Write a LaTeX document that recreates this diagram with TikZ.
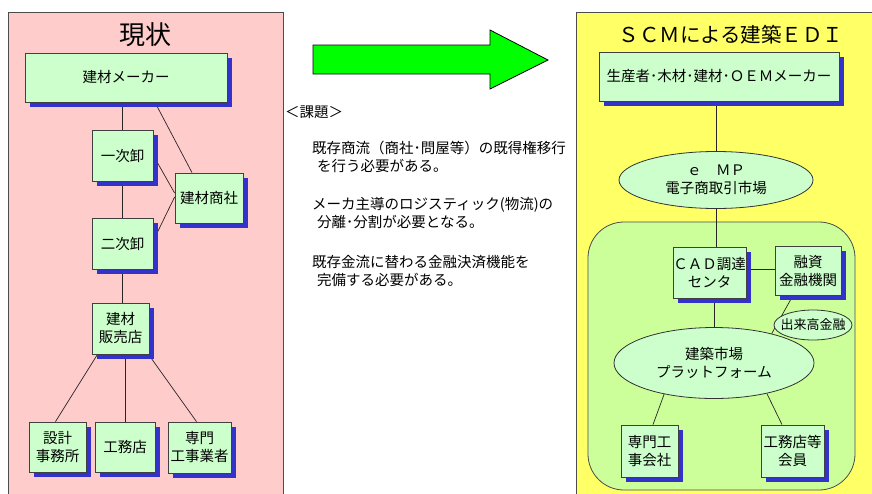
\documentclass[tikz,border=0pt]{standalone}
\usepackage{fontspec}
\setmainfont{Noto Sans CJK JP}
\usetikzlibrary{shapes.geometric,shadows}
\definecolor{shadowblue}{RGB}{51,51,204}
\definecolor{boxgreen}{RGB}{204,255,204}
\definecolor{panelpink}{RGB}{255,204,204}
\definecolor{panelyellow}{RGB}{255,255,102}
\definecolor{platgreen}{RGB}{204,255,153}
\definecolor{arrowgreen}{RGB}{0,255,0}
\pgfdeclarelayer{back}
\pgfdeclarelayer{bg}
\pgfsetlayers{back,bg,main}
\begin{document}
\begin{tikzpicture}[x=1pt,y=-1pt,
  box/.style={draw=black!75,fill=boxgreen,line width=0.8pt,inner sep=0pt,align=center,
    font=\fontsize{14.5}{18}\selectfont,
    drop shadow={shadow xshift=5pt,shadow yshift=-5pt,fill=shadowblue,opacity=1}},
  oval/.style={ellipse,draw=black!80,fill=boxgreen,line width=0.8pt,inner sep=0pt,align=center,
    font=\fontsize{14.5}{18}\selectfont},
  conn/.style={draw=black!85,line width=0.7pt},
  task/.style={anchor=west,inner sep=0pt,font=\fontsize{14.5}{17}\selectfont},
  panel/.style={draw=black!70,line width=0.8pt}
]
\useasboundingbox (0,0) rectangle (872,493);
% panels
\begin{pgfonlayer}{back}
  \fill[white] (0,0) rectangle (872,493);
  \path[panel,fill=panelpink] (8,12) rectangle (283,505);
  \path[panel,fill=panelyellow] (576,12) rectangle (885,505);
  \path[panel,fill=platgreen,rounded corners=36pt] (588,222) rectangle (855,490);
\end{pgfonlayer}
% titles
\node[font=\fontsize{26}{30}\selectfont] (t1) at (145,35) {現状};
\node[font=\fontsize{20.5}{24}\selectfont] (t2) at (731,35) {ＳＣＭによる建築ＥＤＩ};
% green arrow
\draw[black,line width=0.8pt,fill=arrowgreen] (313,45) -- (490,45) -- (490,30) -- (548,60) -- (490,89) -- (490,74) -- (313,74) -- cycle;
% task text
\node[task] (k0) at (285,112) {＜課題＞};
\node[task] (k1) at (312,148) {既存商流（商社･問屋等）の既得権移行};
\node[task] (k2) at (317,166) {を行う必要がある。};
\node[task] (k3) at (312,205) {メーカ主導のロジスティック(物流)の};
\node[task] (k4) at (317,222) {分離･分割が必要となる。};
\node[task] (k5) at (312,262) {既存金流に替わる金融決済機能を};
\node[task] (k6) at (317,280) {完備する必要がある。};
% left nodes
\node[box,minimum width=202,minimum height=49] (maker) at (126,77.5) {建材メーカー};
\node[box,minimum width=61,minimum height=51] (ichiji) at (122.5,155.5) {一次卸};
\node[box,minimum width=68,minimum height=50] (shosha) at (209,198) {建材商社};
\node[box,minimum width=61,minimum height=51] (niji) at (122.5,243.5) {二次卸};
\node[box,minimum width=57,minimum height=51] (hanbai) at (120.5,328.5) {建材\\販売店};
\node[box,minimum width=57,minimum height=50] (sekkei) at (57.5,447) {設計\\事務所};
\node[box,minimum width=60,minimum height=50] (koumu) at (125,447) {工務店};
\node[box,minimum width=63,minimum height=51] (senmon) at (199.5,447.5) {専門\\工事業者};
% right nodes
\node[box,minimum width=240,minimum height=49] (seisan) at (719,76.5) {生産者･木材･建材･ＯＥＭメーカー};
\node[oval,minimum width=194,minimum height=57] (emp) at (716,180) {ｅ　ＭＰ\\電子商取引市場};
\node[box,minimum width=73,minimum height=51] (cad) at (709.5,272.5) {ＣＡＤ調達\\センタ};
\node[box,minimum width=66,minimum height=49] (yushi) at (808,270.5) {融資\\金融機関};
\node[oval,minimum width=200,minimum height=71] (plat) at (714,363) {建築市場\\プラットフォーム};
\node[oval,minimum width=78,minimum height=30,font=\fontsize{13}{16}\selectfont] (deki) at (813,325) {\makebox[0pt]{出来高金融}};
\node[box,minimum width=57,minimum height=52] (senmon2) at (649.5,451) {専門工\\事会社};
\node[box,minimum width=63,minimum height=52] (koumu2) at (792.5,451) {工務店等\\会員};
% connectors
\begin{pgfonlayer}{bg}
  \draw[conn] (ichiji.north |- maker.south) -- (ichiji.north);
  \draw[conn] ([xshift=29pt]maker.south) -- ([xshift=-17pt]shosha.north);
  \draw[conn] (ichiji.east) -- ([yshift=5pt]shosha.west);
  \draw[conn] ([yshift=3pt]niji.east) -- ([yshift=1pt]shosha.west);
  \draw[conn] (niji.north |- ichiji.south) -- (niji.north);
  \draw[conn] (niji.south) -- (niji.south |- hanbai.north);
  \draw[conn] ([xshift=-23pt]hanbai.south) -- ([xshift=-2pt]sekkei.north);
  \draw[conn] (koumu.north |- hanbai.south) -- (koumu.north);
  \draw[conn] ([xshift=28pt]hanbai.south) -- ([xshift=-3pt]senmon.north);
  \draw[conn] (emp.north |- seisan.south) -- (emp.north);
  \draw[conn] (emp.south) -- (emp.south |- cad.north);
  \draw[conn] ([yshift=3pt]cad.east) -- ([yshift=1pt]yushi.west);
  \draw[conn] (plat.north |- cad.south) -- (plat.north);
  \draw[conn] ([xshift=-15pt]yushi.south) -- (plat.27);
  \draw[conn] (plat.212) -- ([xshift=3.5pt]senmon2.north);
  \draw[conn] (plat.-30) -- ([xshift=-10.5pt]koumu2.north);
\end{pgfonlayer}
\end{tikzpicture}
\end{document}
